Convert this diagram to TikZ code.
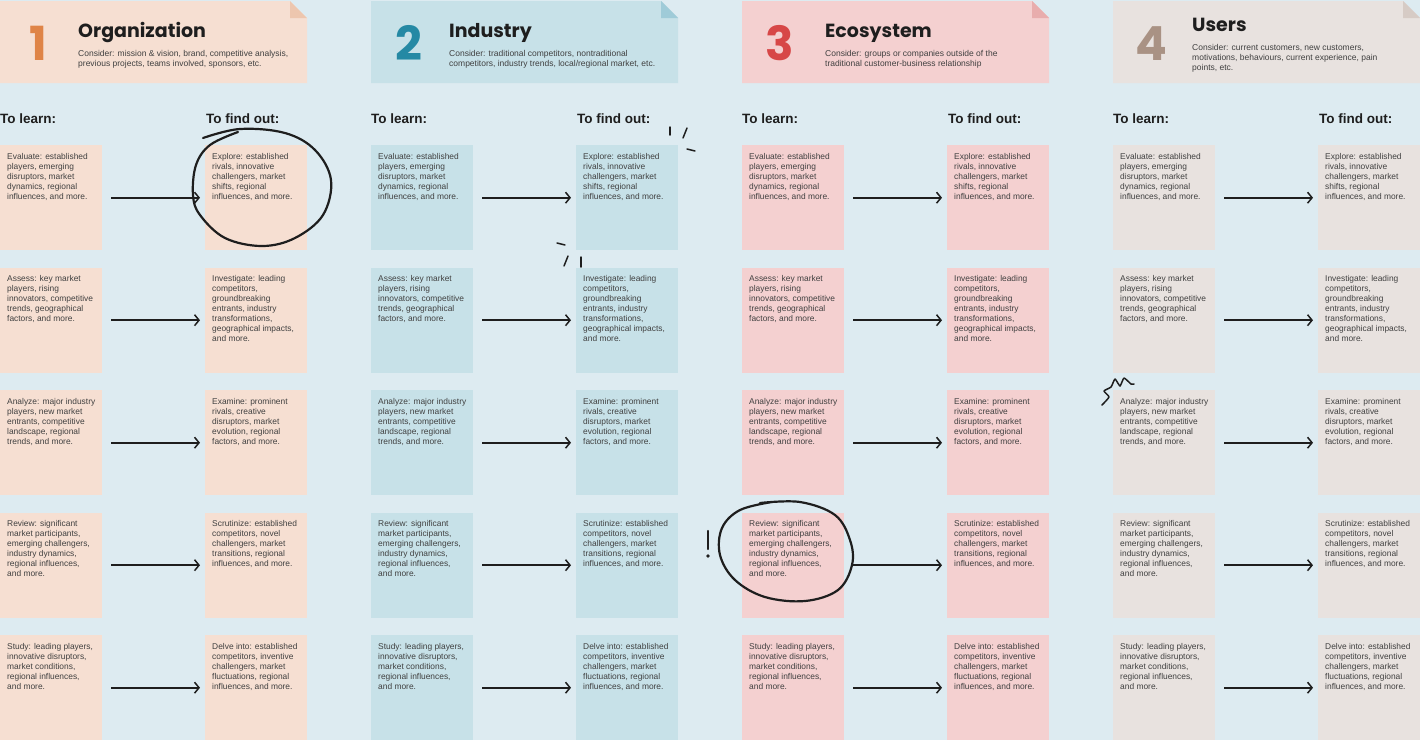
\documentclass[tikz,border=0pt]{standalone}
\usepackage{fontspec}
\setmainfont{Liberation Sans}
\newfontfamily\headfont{Poppins}
\usetikzlibrary{arrows.meta,positioning,calc}

\definecolor{bgblue}{HTML}{DDEBF1}
\definecolor{peach}{HTML}{F6DFD2}
\definecolor{peachfold}{HTML}{EDC6AE}
\definecolor{peachnum}{HTML}{DF8447}
\definecolor{sky}{HTML}{C7E1E8}
\definecolor{skyfold}{HTML}{9FCBD8}
\definecolor{skynum}{HTML}{2589A4}
\definecolor{rose}{HTML}{F4D0D0}
\definecolor{rosefold}{HTML}{E8ADAD}
\definecolor{rosenum}{HTML}{D74747}
\definecolor{sand}{HTML}{E8E2DF}
\definecolor{sandfold}{HTML}{D6CBC5}
\definecolor{sandnum}{HTML}{A99284}
\definecolor{ink}{HTML}{1E1E1E}

% header texts
\newcommand{\dA}{Consider: mission \& vision, brand, competitive analysis,\\previous projects, teams involved, sponsors, etc.}
\newcommand{\dB}{Consider: traditional competitors, nontraditional\\competitors, industry trends, local/regional market, etc.}
\newcommand{\dC}{Consider: groups or companies outside of the\\traditional customer-business relationship}
\newcommand{\dD}{Consider: current customers, new customers,\\motivations, behaviours, current experience, pain\\points, etc.}

% to learn
\newcommand{\lA}{Evaluate: established\\players, emerging\\disruptors, market\\dynamics, regional\\influences, and more.}
\newcommand{\lB}{Assess: key market\\players, rising\\innovators, competitive\\trends, geographical\\factors, and more.}
\newcommand{\lC}{Analyze: major industry\\players, new market\\entrants, competitive\\landscape, regional\\trends, and more.}
\newcommand{\lD}{Review: significant\\market participants,\\emerging challengers,\\industry dynamics,\\regional influences,\\and more.}
\newcommand{\lE}{Study: leading players,\\innovative disruptors,\\market conditions,\\regional influences,\\and more.}

% to find out
\newcommand{\fA}{Explore: established\\rivals, innovative\\challengers, market\\shifts, regional\\influences, and more.}
\newcommand{\fB}{Investigate: leading\\competitors,\\groundbreaking\\entrants, industry\\transformations,\\geographical impacts,\\and more.}
\newcommand{\fC}{Examine: prominent\\rivals, creative\\disruptors, market\\evolution, regional\\factors, and more.}
\newcommand{\fD}{Scrutinize: established\\competitors, novel\\challengers, market\\transitions, regional\\influences, and more.}
\newcommand{\fE}{Delve into: established\\competitors, inventive\\challengers, market\\fluctuations, regional\\influences, and more.}

\begin{document}
\begin{tikzpicture}[
  x=1pt, y=-1pt,
  note/.style={minimum width=102pt, minimum height=105pt, inner sep=0pt, anchor=north west},
  notetext/.style={anchor=north west, align=left, inner sep=0pt, text=ink!85, font=\fontsize{8.4}{10}\selectfont},
  colhead/.style={anchor=base west, inner sep=0pt, text=ink, font=\bfseries\fontsize{13.5}{16}\selectfont},
  bignum/.style={anchor=base, inner sep=0pt, font=\headfont\bfseries\fontsize{47}{47}\selectfont},
  title/.style={anchor=base west, inner sep=0pt, text=ink, font=\headfont\bfseries\fontsize{19}{22}\selectfont},
  desc/.style={anchor=north west, align=left, inner sep=0pt, text=ink!85, font=\fontsize{8.5}{10}\selectfont},
  arr/.style={draw=ink, line width=1.6pt, shorten <=9pt, shorten >=5pt, -{Straight Barb[length=4.5pt, width=11pt, line width=1.5pt]}},
  scribble/.style={draw=ink, line width=2.2pt, line cap=round, line join=round},
  tick/.style={draw=ink, line width=1.5pt, line cap=round}
]
\useasboundingbox (0,0) rectangle (1420,740);
\fill[bgblue] (0,0) rectangle (1420,740);

% headers
\foreach \g/\col/\fc/\nc/\num/\ttl/\dsc/\tx/\ty in {0/peach/peachfold/peachnum/1/Organization/\dA/78/37,
    1/sky/skyfold/skynum/2/Industry/\dB/78/37,
    2/rose/rosefold/rosenum/3/Ecosystem/\dC/83/37,
    3/sand/sandfold/sandnum/4/Users/\dD/79/31}{
  \pgfmathsetmacro{\xa}{371*\g}
  \fill[\col] (\xa,1) -- (\xa+290,1) -- (\xa+307,18) -- (\xa+307,83) -- (\xa,83) -- cycle;
  \fill[\fc] (\xa+290,1) -- (\xa+290,18) -- (\xa+307,18) -- cycle;
  \node[bignum, text=\nc] (num\g) at (\xa+38,60) {\num};
  \node[title] (ttl\g) at (\xa+\tx,\ty) {\ttl};
  \node[desc] (dsc\g) at ($(ttl\g.base west)+(0,13)$) {\dsc};
  \node[colhead] (learn\g) at (\xa,123) {To learn:};
  \node[colhead] (find\g) at (\xa+206,123) {To find out:};
}

% sticky notes and arrows
\foreach \g/\col in {0/peach,1/sky,2/rose,3/sand}{
  \foreach \r/\lt/\ft in {1/\lA/\fA,2/\lB/\fB,3/\lC/\fC,4/\lD/\fD,5/\lE/\fE}{
    \pgfmathsetmacro{\xa}{371*\g}
    \pgfmathsetmacro{\ya}{145+122.5*(\r-1)}
    \node[note, fill=\col] (l\g\r) at (\xa,\ya) {};
    \node[note, fill=\col] (f\g\r) at (\xa+205,\ya) {};
    \node[notetext] (lt\g\r) at ($(l\g\r.north west)+(7,8)$) {\lt};
    \node[notetext] (ft\g\r) at ($(f\g\r.north west)+(7,8)$) {\ft};
    \draw[arr] (l\g\r.east) -- (f\g\r.west);
  }
}

% hand drawn marks
\draw[scribble] plot[smooth, tension=0.6] coordinates {(203,138) (240,129) (285,133) (315,150) (331,180) (323,215) (295,238) (262,246) (225,238) (200,215) (193,195) (196,165) (210,145) (238,132)};
\draw[scribble] plot[smooth, tension=0.6] coordinates {(760,503) (800,502) (835,515) (850,540) (852,565) (838,590) (805,601) (765,597) (735,580) (720,555) (722,528) (740,510) (772,502)};
\draw[scribble] (708,531) -- (708,549);
\fill[ink] (708,556) circle (1.8);
\draw[tick] (670,127) -- (670,135);
\draw[tick] (687,128) -- (683,138);
\draw[tick] (687,149) -- (695,151);
\draw[tick] (557,243) -- (565,245);
\draw[tick] (568,256) -- (564,266);
\draw[tick] (581,257) -- (581,267);
\draw[tick, line join=round] plot[smooth, tension=0.3] coordinates {(1102,405) (1109,397) (1104,391) (1111,387) (1115,379) (1120,386) (1124,378) (1131,384) (1134,384)};
\end{tikzpicture}
\end{document}
